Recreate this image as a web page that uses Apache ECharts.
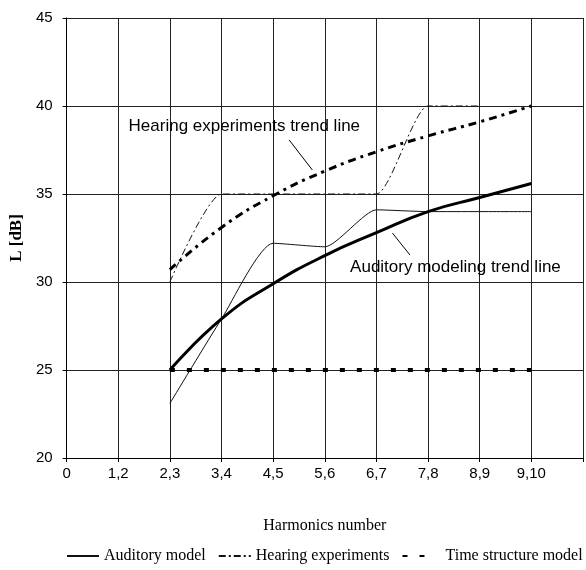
<!DOCTYPE html>
<html>
<head>
<meta charset="utf-8">
<script src="https://cdn.jsdelivr.net/npm/echarts@6/dist/echarts.min.js"></script>
<style>html,body{margin:0;padding:0;background:#fff}#c{width:586px;height:570px}</style>
</head>
<body>
<div id="c"></div>
<script>
const categories = ['0','1,2','2,3','3,4','4,5','5,6','6,7','7,8','8,9','9,10',''];
const auditoryModel = [null,null,23.1,27.9,32.2,32.0,34.1,34.0,34.0,34.0,null];
const hearingExperiments = [null,null,30.0,35.0,35.0,35.0,35.0,40.0,40.0,null,null];
const timeStructureModel = [null,null,25,25,25,25,25,25,25,25,null];
const auditoryTrend = [null,null,25.0,27.9,29.9,31.5,32.8,34.0,34.8,35.6,null];
const hearingTrend = [null,null,30.7,33.1,34.9,36.3,37.4,38.3,39.1,40.0,null];

const chart = echarts.init(document.getElementById('c'));
const sans = 'Liberation Sans, Arial, sans-serif';
const serif = 'Liberation Serif, Times New Roman, serif';

chart.setOption({
  animation: false,
  backgroundColor: '#fff',
  grid: {left: 66, right: 3, top: 18, bottom: 112},
  legend: {
    bottom: 6, left: 66, width: 560, padding: 0, itemGap: 12, itemWidth: 32, itemHeight: 10,
    itemStyle: {opacity: 0},
    data: ['Auditory model', 'Hearing experiments',
           {name: 'Time structure model', textStyle: {padding: [0, 0, 0, 6]}}],
    textStyle: {fontFamily: serif, fontSize: 16, color: '#000'}
  },
  xAxis: {
    type: 'category', data: categories, boundaryGap: false,
    name: 'Harmonics number', nameLocation: 'middle', nameGap: 60,
    nameTextStyle: {fontFamily: serif, fontSize: 16, color: '#000'},
    axisLine: {lineStyle: {color: '#000', width: 1}},
    axisTick: {show: true, length: 4, lineStyle: {color: '#000'}, alignWithLabel: true},
    axisLabel: {fontFamily: sans, fontSize: 15, color: '#000', margin: 8, interval: 0},
    splitLine: {show: true, lineStyle: {color: '#222', width: 1}}
  },
  yAxis: {
    type: 'value', min: 20, max: 45, interval: 5,
    name: 'L [dB]', nameLocation: 'middle', nameGap: 26, nameRotate: 90,
    nameTextStyle: {fontFamily: serif, fontSize: 17, fontWeight: 'bold', color: '#000'},
    axisLine: {show: true, lineStyle: {color: '#000', width: 1}},
    axisTick: {show: true, length: 4, lineStyle: {color: '#000'}},
    axisLabel: {fontFamily: sans, fontSize: 15, color: '#000', margin: 14},
    splitLine: {show: true, lineStyle: {color: '#222', width: 1}}
  },
  series: [
    {name: 'Auditory model', type: 'line', data: auditoryModel, smooth: 0.2,
     showSymbol: false, symbol: 'none', lineStyle: {color: '#111', width: 1}, itemStyle: {color: '#111'}},
    {name: 'Hearing experiments', type: 'line', data: hearingExperiments, smooth: 0.2,
     showSymbol: false, symbol: 'none', lineStyle: {color: '#111', width: 1, type: [7,3,2,3]}, itemStyle: {color: '#111'}},
    {name: 'Time structure model', type: 'line', data: timeStructureModel,
     showSymbol: false, symbol: 'none', lineStyle: {color: '#000', width: 4, type: [5,12]}, itemStyle: {color: '#000'}},
    {name: 'Auditory modeling trend line', type: 'line', data: auditoryTrend, smooth: true,
     showSymbol: false, symbol: 'none', lineStyle: {color: '#000', width: 3}, itemStyle: {color: '#000'}},
    {name: 'Hearing experiments trend line', type: 'line', data: hearingTrend, smooth: true,
     showSymbol: false, symbol: 'none', lineStyle: {color: '#000', width: 3, type: [8,5,3,5]}, itemStyle: {color: '#000'}}
  ]
});

// Convert a fractional category position + value to pixels via the chart's own scales
function toPx(pt) {
  const i = Math.floor(pt[0]), f = pt[0] - i;
  const a = chart.convertToPixel({gridIndex: 0}, [i, pt[1]]);
  const b = chart.convertToPixel({gridIndex: 0}, [i + 1, pt[1]]);
  return [a[0] + f * (b[0] - a[0]), a[1]];
}
const notes = [
  {text: 'Hearing experiments trend line', at: [1.2, 38.86], from: [4.31, 38.07], to: [4.76, 36.36]},
  {text: 'Auditory modeling trend line', at: [5.49, 30.85], from: [6.31, 32.78], to: [6.65, 31.53]}
];
const g = [];
notes.forEach(n => {
  const p = toPx(n.at), a = toPx(n.from), b = toPx(n.to);
  g.push({type: 'text', x: p[0], y: p[1], style: {text: n.text, font: '17px ' + sans, fill: '#000', textVerticalAlign: 'middle'}});
  g.push({type: 'line', shape: {x1: a[0], y1: a[1], x2: b[0], y2: b[1]}, style: {stroke: '#000', lineWidth: 1}});
});
chart.setOption({graphic: g});
</script>
</body>
</html>
